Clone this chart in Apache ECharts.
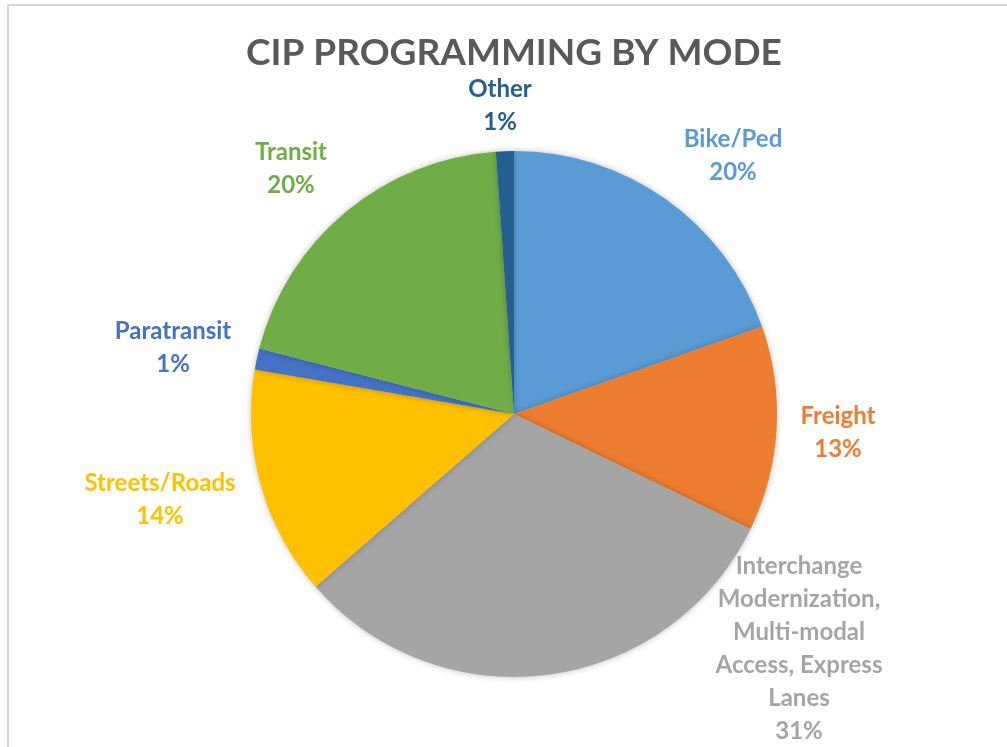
<!DOCTYPE html>
<html>
<head>
<meta charset="utf-8">
<title>CIP Programming by Mode</title>
<script src="https://cdn.jsdelivr.net/npm/echarts@6/dist/echarts.min.js"></script>
<style>
  html, body { margin: 0; padding: 0; background: #fff; }
  #main { width: 1007px; height: 747px; }
</style>
</head>
<body>
<div id="main"></div>
<script>
// data (share of CIP, %)
const modes = ["Bike/Ped", "Freight", "Interchange\nModernization,\nMulti-modal\nAccess, Express\nLanes", "Streets/Roads", "Paratransit", "Transit", "Other"];
const shares = [19.6, 12.6, 31.4, 14.1, 1.3, 19.9, 1.1];
const colors = ["#5B9BD5", "#ED7D31", "#A5A5A5", "#FFC000", "#4472C4", "#70AD47", "#255E91"];

// where excel dropped each label (centre of the text block)
const labelSpots = [[733, 156], [838, 433], [799, 649], [160, 500], [173, 348], [291, 169], [500, 106]];

let myChart = echarts.init(document.getElementById("main"));

let option = {
  backgroundColor: "#fff",
  title: {
    text: "CIP PROGRAMMING BY MODE",
    left: 246,
    top: 35,
    padding: 0,
    textStyle: {
      fontFamily: "Lato",
      fontWeight: "bold",
      fontSize: 37,
      color: "#595959"
    }
  },
  // chart area frame, only top/left edges are in the shot
  graphic: [{
    type: "rect",
    shape: { x: 8, y: 5, width: 1200, height: 900 },
    style: { fill: "none", stroke: "#d9d9d9", lineWidth: 2 },
    silent: true
  }],
  series: [{
    type: "pie",
    center: [514, 414],
    radius: 263,
    startAngle: 90,
    clockwise: true,
    animation: false,
    data: modes.map((m, i) => ({
      name: m,
      value: shares[i],
      itemStyle: { color: colors[i] },
      label: { color: colors[i] }
    })),
    itemStyle: {
      borderWidth: 0,
      shadowBlur: 6,
      shadowColor: "rgba(0,0,0,0.25)"
    },
    label: {
      show: true,
      position: "outside",
      fontFamily: "Lato",
      fontWeight: "bold",
      fontSize: 24,
      lineHeight: 33,
      align: "center",
      formatter: function (p) {
        return p.name + "\n" + Math.round(p.percent) + "%";
      }
    },
    labelLine: { show: false },
    labelLayout: function (params) {
      let s = labelSpots[params.dataIndex];
      return { x: s[0], y: s[1], align: "center", verticalAlign: "middle" };
    }
  }]
};

myChart.setOption(option);
</script>
</body>
</html>
